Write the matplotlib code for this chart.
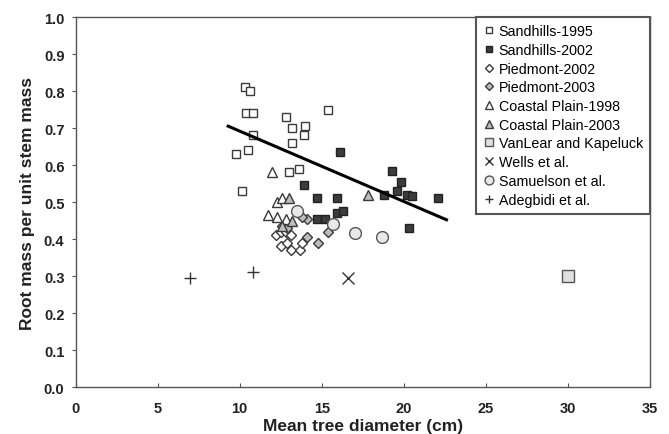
import matplotlib
matplotlib.use('Agg')
import matplotlib.pyplot as plt

plt.rcParams['font.family'] = ['Liberation Sans', 'DejaVu Sans']

# Sandhills-1995
sh95_x = [10.3, 10.6, 10.4, 10.8, 10.8, 9.8, 10.5, 10.15, 12.8, 13.2, 14.0, 13.9, 13.2, 15.4, 13.0, 13.6]
sh95_y = [0.81, 0.80, 0.74, 0.74, 0.68, 0.63, 0.64, 0.53, 0.73, 0.70, 0.705, 0.68, 0.66, 0.75, 0.58, 0.59]
# Sandhills-2002
sh02_x = [16.1, 13.9, 14.7, 15.9, 14.7, 15.2, 15.9, 16.3, 19.3, 19.8, 19.6, 18.8, 20.2, 20.5, 22.1, 20.3]
sh02_y = [0.635, 0.545, 0.51, 0.51, 0.455, 0.455, 0.47, 0.475, 0.585, 0.553, 0.53, 0.52, 0.52, 0.515, 0.51, 0.43]
# Piedmont
pd02_x = [12.2, 12.5, 12.8, 13.1, 12.5, 12.9, 13.1, 13.7, 13.8]
pd02_y = [0.41, 0.42, 0.42, 0.41, 0.38, 0.39, 0.37, 0.37, 0.39]
pd03_x = [14.1, 14.8, 14.1, 13.8, 15.4, 12.6, 12.9]
pd03_y = [0.405, 0.39, 0.455, 0.46, 0.42, 0.435, 0.43]
# Coastal Plain
cp98_x = [12.0, 12.3, 12.6, 11.7, 12.3, 12.8]
cp98_y = [0.58, 0.50, 0.51, 0.465, 0.46, 0.455]
cp03_x = [13.0, 13.2, 12.6, 17.8]
cp03_y = [0.51, 0.45, 0.435, 0.52]
# other studies
vl_x, vl_y = [30.0], [0.30]
wells_x, wells_y = [16.6], [0.295]
sam_x = [13.5, 15.7, 17.0, 18.7]
sam_y = [0.475, 0.44, 0.415, 0.405]
ade_x = [7.0, 10.8]
ade_y = [0.295, 0.31]
# regression line end points
fit_x = [9.3, 22.6]
fit_y = [0.705, 0.452]

fig = plt.figure(figsize=(6.69, 4.35), dpi=100)
ax = fig.add_axes([0.1129, 0.108, 0.8587, 0.8506])

ec = '#3a3a3a'
ms = 6
ax.plot(sh95_x, sh95_y, 's', ms=ms, mfc='white', mec=ec, mew=1.0, label='Sandhills-1995')
ax.plot(sh02_x, sh02_y, 's', ms=ms, mfc='#3c3c3c', mec='#222222', mew=1.0, label='Sandhills-2002')
ax.plot(pd02_x, pd02_y, 'D', ms=5, mfc='white', mec=ec, mew=1.0, label='Piedmont-2002')
ax.plot(pd03_x, pd03_y, 'D', ms=5, mfc='#bdbdbd', mec=ec, mew=1.0, label='Piedmont-2003')
ax.plot(cp98_x, cp98_y, '^', ms=7, mfc='white', mec=ec, mew=1.0, label='Coastal Plain-1998')
ax.plot(cp03_x, cp03_y, '^', ms=7, mfc='#bdbdbd', mec=ec, mew=1.0, label='Coastal Plain-2003')
ax.plot(vl_x, vl_y, 's', ms=8.5, mfc='#e0e0e0', mec='#555555', mew=1.0, label='VanLear and Kapeluck')
ax.plot(wells_x, wells_y, 'x', ms=8.5, mec='#333333', mew=1.0, label='Wells et al.')
ax.plot(sam_x, sam_y, 'o', ms=8.5, mfc='#e8e8e8', mec='#555555', mew=1.0, label='Samuelson et al.')
ax.plot(ade_x, ade_y, '+', ms=8.5, mec='#333333', mew=1.0, label='Adegbidi et al.')
ax.plot(fit_x, fit_y, '-', color='black', lw=2.2)

ax.set_xlim(0, 35)
ax.set_ylim(0, 1.0)
ax.set_xticks(range(0, 36, 5))
ax.set_yticks([i / 10 for i in range(11)])
ax.set_yticklabels(['%.1f' % (i / 10) for i in range(11)])
for s in ax.spines.values():
    s.set_color('#555555')
    s.set_linewidth(1.0)
ax.tick_params(axis='x', direction='in', length=3, color='#555555', pad=10)
ax.tick_params(axis='y', direction='out', length=3, color='#555555', pad=5)
for lab in ax.get_xticklabels() + ax.get_yticklabels():
    lab.set_fontsize(10.5)
    lab.set_fontweight('bold')
    lab.set_color('#222222')

ax.set_xlabel('Mean tree diameter (cm)', fontsize=12.5, fontweight='bold', color='#222222', labelpad=2)
ax.set_ylabel('Root mass per unit stem mass', fontsize=12.5, fontweight='bold', color='#222222', labelpad=6)

leg = ax.legend(loc='upper right', borderaxespad=0, fontsize=10.3, handlelength=0.8,
                handletextpad=0.3, labelspacing=0.33, fancybox=False, framealpha=1,
                borderpad=0.5, markerscale=0.75)
leg.get_frame().set_edgecolor('#555555')
leg.get_frame().set_linewidth(1.5)

fig.savefig('out.png', dpi=100)
